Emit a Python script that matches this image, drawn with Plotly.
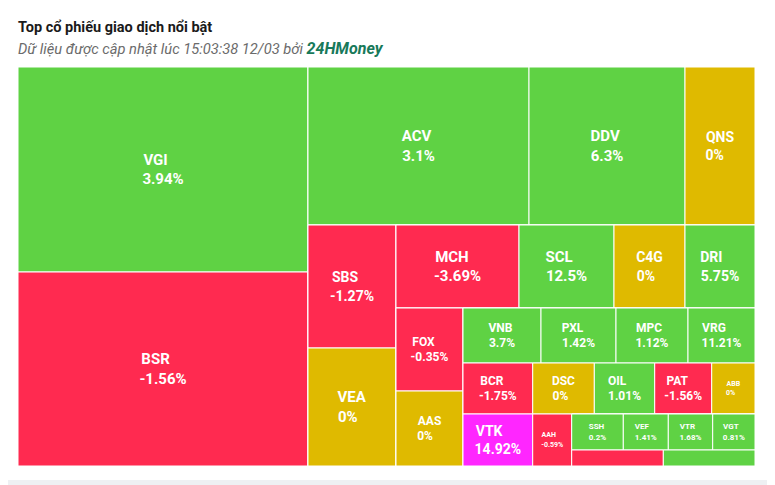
import plotly.graph_objects as go

# ---- data ----
tickers = ["VGI", "BSR", "ACV", "DDV", "QNS", "SBS", "VEA", "MCH", "SCL", "C4G",
           "DRI", "FOX", "AAS", "VNB", "PXL", "MPC", "VRG", "BCR", "DSC", "OIL",
           "PAT", "ABB", "VTK", "AAH", "SSH", "VEF", "VTR", "VGT", "N1", "N2"]
trade_values = [59450, 56260, 34918, 24648, 11060, 10824, 10384, 10209, 7885, 5893,
                5810, 5561, 5025, 4290, 4125, 3960, 3685, 3555, 3142, 3080,
                2907, 2208, 3624, 2028, 1858, 1620, 1598, 1523, 1466, 1467]
changes = [3.94, -1.56, 3.1, 6.3, 0, -1.27, 0, -3.69, 12.5, 0,
           5.75, -0.35, 0, 3.7, 1.42, 1.12, 11.21, -1.75, 0, 1.01,
           -1.56, 0, 14.92, -0.59, 0.2, 1.41, 1.68, 0.81, None, None]
status = ["up", "down", "up", "up", "ref", "down", "ref", "down", "up", "ref",
          "up", "down", "ref", "up", "up", "up", "up", "down", "ref", "up",
          "down", "ref", "ceil", "down", "up", "up", "up", "up", "down", "up"]
label_sizes = [15, 15, 15, 15, 14, 14, 15, 15, 15, 14,
               14, 12, 12, 12, 12, 12, 12, 12, 12, 12,
               12, 7, 14, 7, 8, 8, 8, 8, 8, 8]

# grouping of the tiles (slice / dice blocks of the treemap)
tree = ("all", [
    ("gA", ["VGI", "BSR"]),
    ("gRest", [
        ("gTop", ["ACV", "DDV", "QNS"]),
        ("gBot", [
            ("gSV", ["SBS", "VEA"]),
            ("gR2", [
                ("gRow2", ["MCH", "SCL", "C4G", "DRI"]),
                ("gBot2", [
                    ("gFA", ["FOX", "AAS"]),
                    ("gR3", [
                        ("gRow3", ["VNB", "PXL", "MPC", "VRG"]),
                        ("gRow4", ["BCR", "DSC", "OIL", "PAT", "ABB"]),
                        ("gBot4", ["VTK", "AAH",
                                   ("gR5", [
                                       ("gRow5", ["SSH", "VEF", "VTR", "VGT"]),
                                       ("gRow6", ["N1", "N2"]),
                                   ])]),
                    ]),
                ]),
            ]),
        ]),
    ]),
])

palette = {"up": "#5fd244", "down": "#ff2a50", "ref": "#dfba00", "ceil": "#ff26ff"}

# approximate Roboto Bold advance widths (em) used to left-align the two label lines
CW = {"0": .562, "1": .562, "2": .562, "3": .562, "4": .562, "5": .562, "6": .562,
      "7": .562, "8": .562, "9": .562, ".": .27, "%": .73, "-": .28,
      "A": .67, "B": .63, "C": .65, "D": .65, "E": .57, "F": .55, "G": .68, "H": .71,
      "I": .28, "K": .63, "L": .54, "M": .87, "N": .71, "O": .69, "P": .63, "Q": .69,
      "R": .63, "S": .61, "T": .61, "V": .65, "X": .64}
SP = 0.25


def tw(s):
    return sum(CW.get(c, .6) for c in s)


def pad(a, b):
    d = tw(b) - tw(a)
    n = int(round(d / SP))
    if n > 0:
        return a + "\u00a0" * n, b
    elif n < 0:
        return a, b + "\u00a0" * (-n)
    return a, b


info = {t: i for i, t in enumerate(tickers)}
ids, parents, labels, vals, colors, texts, sizes = [], [], [], [], [], [], []


def walk(node, parent):
    if isinstance(node, tuple):
        name, kids = node
        ids.append(name); parents.append(parent); labels.append(name)
        vals.append(0); colors.append("#ffffff"); texts.append(""); sizes.append(10)
        for k in kids:
            walk(k, name)
    else:
        i = info[node]
        ids.append(node); parents.append(parent)
        labels.append(node)
        vals.append(trade_values[i])
        colors.append(palette[status[i]])
        if changes[i] is None:
            texts.append("")
        else:
            l1, l2 = pad(node, f"{changes[i]:g}%")
            texts.append(f"<b>{l1}</b><br><b>{l2}</b>")
        sizes.append(label_sizes[i])


walk(tree, "")

fig = go.Figure(go.Treemap(
    ids=ids, labels=labels, parents=parents, values=vals,
    branchvalues="remainder", sort=False,
    text=texts, textinfo="text", textposition="middle center",
    textfont=dict(family="Roboto", size=sizes, color="#ffffff"),
    marker=dict(colors=colors, line=dict(width=1, color="#ffffff"),
                pad=dict(t=0, l=0, r=0, b=0)),
    tiling=dict(packing="slice-dice", pad=0),
    pathbar=dict(visible=False),
    hoverinfo="skip",
))

OFF = 8  # page body margin
W, H = 775 - OFF, 485 - OFF
ml, mt = 18 - OFF, 67 - OFF
mr, mb = W - (755 - OFF), H - (466 - OFF)
pw, ph = W - ml - mr, H - mt - mb


def px(x):
    return (x - OFF - ml) / pw


def py(y):
    return (H - mb - (y - OFF)) / ph


fig.update_layout(
    width=W, height=H,
    margin=dict(l=ml, r=mr, t=mt, b=mb),
    paper_bgcolor="#eef0f3",
    showlegend=False,
    shapes=[dict(type="rect", xref="paper", yref="paper",
                 x0=px(3), x1=px(770), y0=py(480), y1=py(3),
                 fillcolor="#ffffff", line=dict(width=0), layer="below")],
    annotations=[
        dict(xref="paper", yref="paper", x=px(18), y=py(28), xanchor="left", yanchor="middle",
             xshift=-2, showarrow=False,
             text="<b>Top cổ phiếu giao dịch nổi bật</b>",
             font=dict(family="Roboto", size=14.5, color="#1a1a1a")),
        dict(xref="paper", yref="paper", x=px(18), y=py(48.5), xanchor="left", yanchor="middle",
             xshift=-2, showarrow=False,
             text="<i>Dữ liệu được cập nhật lúc 15:03:38 12/03 bởi </i>"
                  "<b><i><span style='color:#18795a;font-size:16px'>24HMoney</span></i></b>",
             font=dict(family="Roboto", size=14.7, color="#6b6b6b")),
    ],
)

fig.write_html("out.html")
